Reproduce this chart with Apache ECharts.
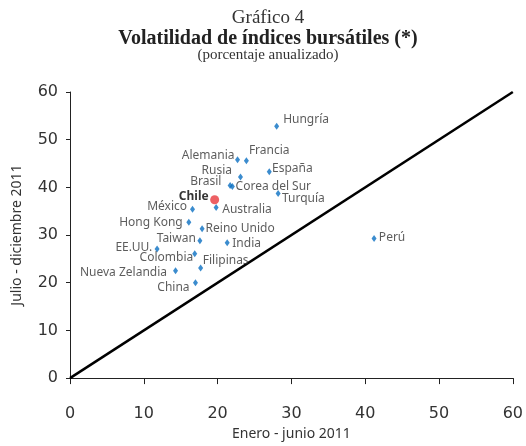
<!DOCTYPE html>
<html><head><meta charset="utf-8">
<script src="https://cdn.jsdelivr.net/npm/echarts@6/dist/echarts.min.js"></script>
<style>html,body{margin:0;padding:0;background:#fff;overflow:hidden}#c{width:526px;height:446px}</style>
</head><body><div id="c"></div>
<script>
// Data
const countries = ['Hungría','Francia','Alemania','España','Rusia','Brasil','Corea del Sur','Turquía','México','Australia','Hong Kong','Reino Unido','Taiwan','India','EE.UU.','Colombia','Filipinas','Nueva Zelandia','China','Perú'];
const eneroJunio = [28.0, 23.9, 22.7, 27.0, 23.1, 21.7, 22.0, 28.2, 16.6, 19.8, 16.1, 17.9, 17.6, 21.3, 11.8, 16.9, 17.7, 14.3, 17.0, 41.2];
const julioDic   = [52.8, 45.6, 45.8, 43.3, 42.2, 40.4, 40.2, 38.7, 35.4, 35.8, 32.7, 31.3, 28.8, 28.4, 27.1, 26.1, 23.1, 22.5, 20.0, 29.3];
const chileName = 'Chile';
const chileX = 19.6;
const chileY = 37.4;
const lineX = [0, 60];
const lineY = [0, 60];
const ticks = [0, 10, 20, 30, 40, 50, 60];

// Label placement (style)
const labelPlace = {
  'Hungría': ['right', 2, -7],
  'Francia': ['right', -2, -10],
  'Alemania': ['left', 1.5, -4],
  'España': ['right', -1.7, -3.5],
  'Rusia': ['left', -4, -6],
  'Brasil': ['left', -4.3, -4.3],
  'Corea del Sur': ['right', -1.3, 0],
  'Turquía': ['right', -0.7, 5],
  'México': ['left', -1, -3],
  'Australia': ['right', 1.6, 2],
  'Hong Kong': ['left', -1.6, 0],
  'Reino Unido': ['right', -1, 0],
  'Taiwan': ['left', 0.4, -1.7],
  'India': ['right', 0.6, 1.3],
  'EE.UU.': ['left', -0.3, -1.3],
  'Colombia': ['left', 3, 4],
  'Filipinas': ['right', -2.4, -7.6],
  'Nueva Zelandia': ['left', -4, 1.3],
  'China': ['left', -1.4, 5.3],
  'Perú': ['right', 0.3, -1]
};

const sansFont = '"Noto Sans", sans-serif';
const axisFont = '"DejaVu Sans", sans-serif';
const serifFont = '"Liberation Serif", serif';
const pts = countries.map((n, i) => {
  const p = labelPlace[n];
  return {
    name: n,
    value: [eneroJunio[i], julioDic[i]],
    label: { position: p[0], offset: [p[1], p[2]] }
  };
});

const chart = echarts.init(document.getElementById('c'), null, {renderer: 'canvas', width: 526, height: 446});
chart.setOption({
  animation: false,
  title: [
    { text: 'Gráfico 4', left: 263, top: 4, textAlign: 'center',
      textStyle: { fontFamily: serifFont, fontWeight: 'normal', fontSize: 19, color: '#333' } },
    { text: 'Volatilidad de índices bursátiles (*)', left: 263, top: 24, textAlign: 'center',
      textStyle: { fontFamily: serifFont, fontWeight: 'bold', fontSize: 20, color: '#222' } },
    { text: '(porcentaje anualizado)', left: 263, top: 43, textAlign: 'center',
      textStyle: { fontFamily: serifFont, fontWeight: 'normal', fontSize: 15, color: '#333' } }
  ],
  grid: { left: 70, right: 12, top: 92, height: 292 },
  xAxis: {
    type: 'value', min: 0, max: 60, interval: 10,
    name: 'Enero - junio 2011', nameLocation: 'middle', nameGap: 44,
    nameTextStyle: { fontFamily: sansFont, fontSize: 14, color: '#333' },
    axisLine: { show: true, lineStyle: { color: '#222', width: 1 } },
    axisTick: { show: true, length: 6, lineStyle: { color: '#222' } },
    axisLabel: { margin: 28, fontFamily: axisFont, fontSize: 16, color: '#333',
      formatter: v => ticks.includes(v) ? String(v) : '' },
    splitLine: { show: false }
  },
  yAxis: {
    type: 'value', min: 0, max: 60, interval: 10,
    name: 'Julio - diciembre 2011', nameLocation: 'middle', nameGap: 46,
    nameTextStyle: { fontFamily: sansFont, fontSize: 14, color: '#333' },
    axisLine: { show: true, lineStyle: { color: '#222', width: 1 } },
    axisTick: { show: true, length: 4, lineStyle: { color: '#222' } },
    axisLabel: { margin: 12, fontFamily: axisFont, fontSize: 16, color: '#333',
      formatter: v => ticks.includes(v) ? String(v) : '' },
    splitLine: { show: false }
  },
  series: [
    {
      type: 'line', data: lineX.map((x, i) => [x, lineY[i]]),
      showSymbol: false, symbol: 'none', silent: true,
      lineStyle: { color: '#000', width: 2.5 }, z: 1
    },
    {
      type: 'scatter', data: pts, symbol: 'diamond', symbolSize: [5, 7],
      itemStyle: { color: '#0a6fc2' }, z: 3,
      label: { show: true, formatter: '{b}', distance: 2,
        fontFamily: sansFont, fontSize: 12, color: '#333' }
    },
    {
      type: 'scatter', data: [{ name: chileName, value: [chileX, chileY] }],
      symbol: 'circle', symbolSize: 9,
      itemStyle: { color: '#e8383d' }, z: 4,
      label: { show: true, formatter: '{b}', position: 'left', distance: 2, offset: [0.5, -3.3],
        fontFamily: sansFont, fontSize: 12, fontWeight: 'bold', color: '#000' }
    }
  ]
});
</script>
</body></html>
